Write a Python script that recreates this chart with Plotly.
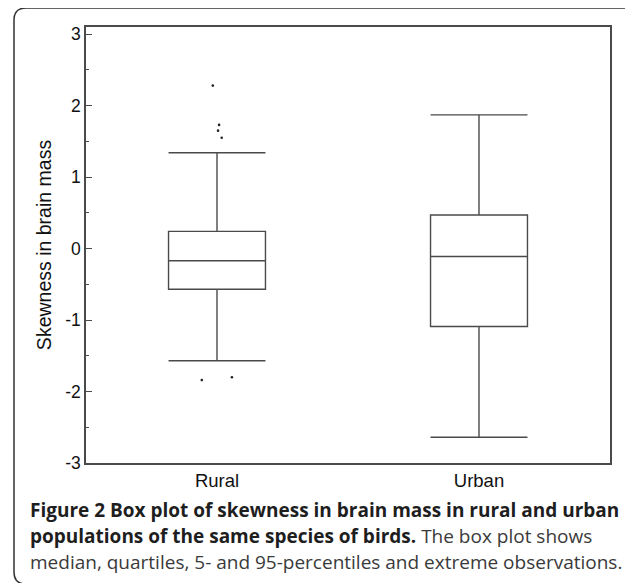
import plotly.graph_objects as go

# ---- data ----
categories = ["Rural", "Urban"]
q1 = [-0.57, -1.09]
median = [-0.17, -0.11]
q3 = [0.24, 0.47]
lower_whisker = [-1.57, -2.64]
upper_whisker = [1.34, 1.87]

outlier_values = [2.28, 1.73, 1.65, 1.55, -1.84, -1.80]
outlier_group = [0, 0, 0, 0, 0, 0]
outlier_jitter = [-0.016, 0.008, 0.004, 0.018, -0.058, 0.057]

y_ticks = [-3, -2, -1, 0, 1, 2, 3]
y_tick_labels = ["-3", "-2", "-1", "0", "1", "2", "3"]
caption_lines = [
    "<b>Figure 2 Box plot of skewness in brain mass in rural and urban</b>",
    "<b>populations of the same species of birds.</b><span style='color:#3a3a3a'> The box plot shows</span>",
    "<span style='color:#3a3a3a'>median, quartiles, 5- and 95-percentiles and extreme observations.</span>",
]

# the page has an 8px body margin, so the figure is drawn 8px in from the corner
OFF = 8
W, H = 633 - OFF, 583 - OFF
ML, MR, MT, MB = 86 - OFF, 23, 27 - OFF, 120
PW, PH = W - ML - MR, H - MT - MB


def px(x):  # page pixel -> paper x
    return (x - OFF - ML) / PW


def py(y):  # page pixel -> paper y
    return (H - MB - (y - OFF)) / PH


LINE = "#4a4a4a"

fig = go.Figure()
for i, cat in enumerate(categories):
    fig.add_trace(go.Box(
        x=[i],
        q1=[q1[i]], median=[median[i]], q3=[q3[i]],
        lowerfence=[lower_whisker[i]], upperfence=[upper_whisker[i]],
        width=0.37, whiskerwidth=1,
        fillcolor="white",
        line=dict(color=LINE, width=1.4),
        boxpoints=False, name=cat, showlegend=False, hoverinfo="skip",
    ))

fig.add_trace(go.Scatter(
    x=[g + j for g, j in zip(outlier_group, outlier_jitter)],
    y=outlier_values,
    mode="markers",
    marker=dict(size=2.6, color="#222"),
    showlegend=False, hoverinfo="skip",
))

# outer rounded frame of the figure panel
r = 12
frame_path = (
    f"M {px(26)},{py(584)} Q {px(14)},{py(584)} {px(14)},{py(572)} "
    f"L {px(14)},{py(8 + r)} Q {px(14)},{py(8)} {px(14 + r)},{py(8)} "
    f"L {px(624)},{py(8)} Q {px(632)},{py(8)} {px(633)},{py(12)}"
)
shapes = [dict(type="path", xref="paper", yref="paper", path=frame_path,
               line=dict(color="#333", width=1.5))]

annotations = []
cap_y = [510, 536, 562]
for txt, yy in zip(caption_lines, cap_y):
    annotations.append(dict(
        text=txt, xref="paper", yref="paper", x=px(28), y=py(yy),
        xanchor="left", yanchor="middle", showarrow=False,
        font=dict(family="Open Sans", size=19, color="#1e1e1e"),
    ))

fig.update_layout(
    width=W, height=H,
    margin=dict(l=ML, r=MR, t=MT, b=MB, pad=0),
    paper_bgcolor="white", plot_bgcolor="white",
    font=dict(family="Liberation Sans, Arial", color="#111"),
    shapes=shapes, annotations=annotations,
    xaxis=dict(
        range=[-0.5, 1.5], tickmode="array", tickvals=[0, 1], ticktext=categories,
        showgrid=False, zeroline=False, showline=True, mirror=True,
        linecolor=LINE, linewidth=1.5, ticks="", tickfont=dict(size=18.5),
    ),
    yaxis=dict(
        range=[-3, 3.1], tickmode="array", tickvals=y_ticks, ticktext=y_tick_labels,
        showgrid=False, zeroline=False, showline=True, mirror=True,
        linecolor=LINE, linewidth=1.5, ticks="inside", ticklen=6,
        tickwidth=1.2, tickcolor=LINE, tickfont=dict(size=17.5),
        minor=dict(dtick=0.5, ticks="inside", ticklen=3, tickcolor=LINE, tickwidth=1),
        title=dict(text="Skewness in brain mass", font=dict(size=19.5), standoff=8),
    ),
)

fig.write_html("out.html")
